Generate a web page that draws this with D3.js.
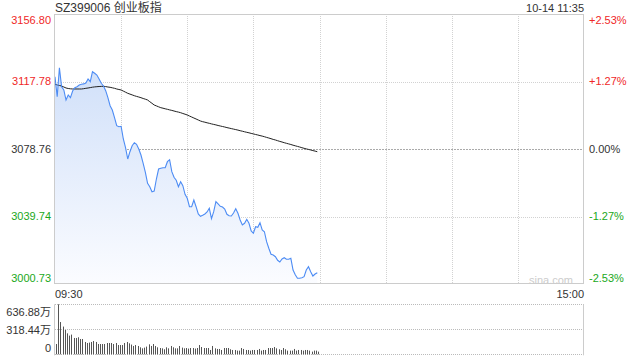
<!DOCTYPE html>
<html>
<head>
<meta charset="utf-8">
<script src="https://cdn.jsdelivr.net/npm/d3@7"></script>
<style>
  body { margin: 0; background: #fff; }
  svg { display: block; font-family: Arial, "Liberation Sans", "Noto Sans CJK SC", sans-serif; }
</style>
</head>
<body>
<div id="chart"></div>
<script>
// index name / time stamp
var title = "SZ399006 创业板指";
var stamp = "10-14 11:35";
var timeLabels = ["09:30", "15:00"];

// price axis (left) and percent axis (right)
var priceTicks = [3156.80, 3117.78, 3078.76, 3039.74, 3000.73];
var pctLabels = ["+2.53%", "+1.27%", "0.00%", "-1.27%", "-2.53%"];
var prevClose = 3078.76;

// volume axis
var volTicks = [636.88, 318.44, 0];
var volLabels = ["636.88万", "318.44万", "0"];

// minute prices 09:30 - 11:29
var prices = [
  3120.56, 3109.00, 3125.76, 3114.78, 3112.87, 3107.09, 3109.98, 3108.42, 3112.29, 3114.20,
  3114.78, 3115.76, 3116.17, 3116.40, 3116.92, 3119.23, 3117.67, 3123.45, 3122.52, 3121.54,
  3119.23, 3116.74, 3115.18, 3112.47, 3108.42, 3103.80, 3101.31, 3096.86, 3092.23, 3091.66,
  3091.89, 3084.54, 3079.52, 3072.99, 3077.21, 3080.67, 3082.41, 3081.49, 3078.77, 3075.30,
  3070.50, 3065.30, 3058.94, 3056.97, 3054.08, 3054.49, 3061.42, 3067.20, 3067.61, 3067.96,
  3067.96, 3071.43, 3072.58, 3065.65, 3062.41, 3060.68, 3056.97, 3059.87, 3057.56, 3052.59,
  3050.27, 3045.41, 3045.41, 3049.29, 3045.41, 3041.20, 3039.86, 3040.44, 3041.20, 3042.35,
  3044.49, 3038.48, 3042.52, 3048.30, 3046.98, 3045.65, 3045.24, 3044.08, 3041.02, 3040.21,
  3040.04, 3041.77, 3044.26, 3041.60, 3037.73, 3034.84, 3035.82, 3038.13, 3035.82, 3031.37,
  3030.04, 3033.85, 3033.51, 3036.17, 3031.94, 3030.96, 3025.18, 3021.37, 3017.90, 3017.49,
  3016.51, 3014.43, 3013.45, 3015.18, 3015.93, 3015.01, 3015.01, 3015.59, 3008.82, 3006.11,
  3004.03, 3004.03, 3004.37, 3004.95, 3008.82, 3010.73, 3007.85, 3005.36, 3006.51, 3007.26
];

// average price line
var avgPrices = [
  3116.16, 3115.76, 3115.47, 3115.18, 3114.60, 3114.03, 3113.74, 3113.56, 3113.45, 3113.45,
  3113.45, 3113.45, 3113.45, 3113.62, 3113.85, 3114.03, 3114.26, 3114.49, 3114.66, 3114.78,
  3114.89, 3114.95, 3115.01, 3114.83, 3114.60, 3114.43, 3114.14, 3113.85, 3113.45, 3113.16,
  3112.87, 3112.23, 3111.60, 3110.96, 3110.50, 3110.04, 3109.57, 3109.17, 3108.82, 3108.42,
  3107.96, 3107.55, 3107.09, 3106.11, 3105.18, 3104.20, 3103.68, 3103.16, 3102.64, 3102.35,
  3102.00, 3101.71, 3101.37, 3101.08, 3100.73, 3100.38, 3100.09, 3099.75, 3099.29, 3098.88,
  3098.42, 3097.84, 3097.26, 3096.68, 3096.11, 3095.53, 3094.95, 3094.55, 3094.26, 3093.91,
  3093.62, 3093.27, 3092.98, 3092.70, 3092.35, 3092.06, 3091.77, 3091.48, 3091.13, 3090.85,
  3090.56, 3090.27, 3089.98, 3089.69, 3089.34, 3089.05, 3088.71, 3088.42, 3088.13, 3087.78,
  3087.49, 3087.15, 3086.86, 3086.51, 3086.22, 3085.87, 3085.47, 3085.12, 3084.72, 3084.31,
  3083.97, 3083.56, 3083.16, 3082.81, 3082.41, 3082.06, 3081.71, 3081.37, 3080.96, 3080.61,
  3080.27, 3079.92, 3079.52, 3079.17, 3078.82, 3078.53, 3078.19, 3077.84, 3077.55, 3077.20
];

// minute volume (万)
var volumes = [
  131, 636.88, 411, 353, 310, 267, 238, 251, 208, 208,
  217, 195, 195, 157, 144, 149, 157, 169, 157, 131,
  131, 131, 131, 144, 144, 144, 131, 144, 118, 118,
  118, 144, 157, 140, 124, 106, 118, 106, 89, 76,
  85, 98, 127, 106, 131, 106, 89, 80, 76, 64,
  89, 76, 106, 89, 76, 76, 106, 85, 76, 80,
  73, 80, 80, 73, 80, 118, 93, 80, 80, 80,
  55, 106, 76, 68, 68, 55, 80, 80, 80, 64,
  55, 55, 47, 47, 80, 68, 55, 55, 47, 55,
  55, 55, 68, 47, 55, 55, 80, 80, 80, 93,
  76, 64, 55, 80, 64, 47, 47, 47, 68, 47,
  55, 55, 47, 55, 55, 47, 34, 47, 47, 34
];

var w = 640, h = 360;
var pLeft = 55, pRight = 584;
var pTop = 14, pBottom = 284;
var vTop = 304.3, vBottom = 354.3;

var red = "#f02828", green = "#1aa81a", dark = "#333";

var svg = d3.select("#chart")
  .append("svg")
  .attr("width", w)
  .attr("height", h);

var x = d3.scaleLinear().domain([0, 240]).range([pLeft, pRight]);
var y = d3.scaleLinear().domain([priceTicks[4], priceTicks[0]]).range([pBottom, pTop]);
var yv = d3.scaleLinear().domain([0, volTicks[0]]).range([vBottom, vTop]);

function colorOf(i) {
  if (priceTicks[i] > prevClose) return red;
  if (priceTicks[i] < prevClose) return green;
  return dark;
}

// gradient under the price line
var grad = svg.append("defs").append("linearGradient")
  .attr("id", "fill")
  .attr("gradientUnits", "userSpaceOnUse")
  .attr("x1", 0).attr("x2", 0)
  .attr("y1", 60).attr("y2", pBottom);
grad.append("stop").attr("offset", 0).attr("stop-color", "#cfdff9");
grad.append("stop").attr("offset", 1).attr("stop-color", "#fbfcff");

// grid
var vgrid = d3.range(30, 240, 30);
svg.selectAll("line.vg")
  .data(vgrid)
  .enter()
  .append("line")
  .attr("x1", function(d) { return Math.round(x(d)) + 0.5; })
  .attr("x2", function(d) { return Math.round(x(d)) + 0.5; })
  .attr("y1", pTop)
  .attr("y2", pBottom)
  .attr("stroke", "#d2d2d2")
  .attr("stroke-dasharray", "1,1");

svg.selectAll("line.hg")
  .data(priceTicks.slice(1, 4))
  .enter()
  .append("line")
  .attr("x1", pLeft)
  .attr("x2", pRight)
  .attr("y1", function(d) { return Math.round(y(d)) + 0.5; })
  .attr("y2", function(d) { return Math.round(y(d)) + 0.5; })
  .attr("stroke", function(d) { return d === prevClose ? "#aaa" : "#d2d2d2"; })
  .attr("stroke-dasharray", function(d) { return d === prevClose ? "2,1" : "1,1"; });

// area + lines
svg.append("path")
  .datum(prices)
  .attr("d", d3.area()
    .x(function(d, i) { return x(i); })
    .y0(pBottom)
    .y1(function(d) { return y(d); }))
  .attr("fill", "url(#fill)");

svg.append("path")
  .datum(avgPrices)
  .attr("d", d3.line()
    .x(function(d, i) { return x(i); })
    .y(function(d) { return y(d); }))
  .attr("fill", "none")
  .attr("stroke", "#222")
  .attr("stroke-width", 1);

svg.append("path")
  .datum(prices)
  .attr("d", d3.line()
    .x(function(d, i) { return x(i); })
    .y(function(d) { return y(d); }))
  .attr("fill", "none")
  .attr("stroke", "#4d8cf4")
  .attr("stroke-width", 1.1);

// frame
svg.append("rect")
  .attr("x", pLeft - 0.5)
  .attr("y", pTop + 0.5)
  .attr("width", pRight - pLeft)
  .attr("height", pBottom - pTop - 1)
  .attr("fill", "none")
  .attr("stroke", "#ccc");

// watermark
svg.append("text")
  .attr("x", 573)
  .attr("y", 284)
  .attr("text-anchor", "end")
  .attr("font-size", "11px")
  .attr("fill", "#ccc")
  .text("sina.com");

// axis labels
function labelY(i) {
  var v = y(priceTicks[i]);
  if (i === 0) v += 6;
  if (i === priceTicks.length - 1) v -= 6;
  return v;
}

svg.selectAll("text.pl")
  .data(priceTicks)
  .enter()
  .append("text")
  .attr("x", 51)
  .attr("y", function(d, i) { return labelY(i); })
  .attr("dy", "0.35em")
  .attr("text-anchor", "end")
  .attr("font-size", "11px")
  .attr("fill", function(d, i) { return colorOf(i); })
  .text(function(d) { return d.toFixed(2); });

svg.selectAll("text.pr")
  .data(pctLabels)
  .enter()
  .append("text")
  .attr("x", 589)
  .attr("y", function(d, i) { return labelY(i); })
  .attr("dy", "0.35em")
  .attr("font-size", "11px")
  .attr("fill", function(d, i) { return colorOf(i); })
  .text(function(d) { return d; });

// header
svg.append("text")
  .attr("x", pLeft)
  .attr("y", 12)
  .attr("font-size", "12px")
  .attr("fill", dark)
  .text(title);

svg.append("text")
  .attr("x", pRight)
  .attr("y", 12)
  .attr("text-anchor", "end")
  .attr("font-size", "11px")
  .attr("fill", dark)
  .text(stamp);

// time labels
svg.append("text")
  .attr("x", pLeft)
  .attr("y", 297.5)
  .attr("font-size", "11px")
  .attr("fill", dark)
  .text(timeLabels[0]);

svg.append("text")
  .attr("x", pRight)
  .attr("y", 297.5)
  .attr("text-anchor", "end")
  .attr("font-size", "11px")
  .attr("fill", dark)
  .text(timeLabels[1]);

// volume panel
svg.selectAll("line.vol")
  .data(volTicks)
  .enter()
  .append("line")
  .attr("x1", pLeft)
  .attr("x2", pRight)
  .attr("y1", function(d) { return Math.round(yv(d)) + 0.5; })
  .attr("y2", function(d) { return Math.round(yv(d)) + 0.5; })
  .attr("stroke", "#bbb")
  .attr("stroke-dasharray", "1,1");

svg.append("line")
  .attr("x1", pLeft - 0.5).attr("x2", pLeft - 0.5)
  .attr("y1", vTop).attr("y2", vBottom + 1)
  .attr("stroke", "#ccc");

svg.append("line")
  .attr("x1", pRight - 0.5).attr("x2", pRight - 0.5)
  .attr("y1", vTop).attr("y2", vBottom + 1)
  .attr("stroke", "#ccc");

svg.selectAll("rect.bar")
  .data(volumes)
  .enter()
  .append("rect")
  .attr("x", function(d, i) { return Math.round(x(i) + 1); })
  .attr("y", function(d) { return yv(d); })
  .attr("width", 1)
  .attr("height", function(d) { return vBottom - yv(d); })
  .attr("fill", "#555");

var volLabelY = [311.7, 330, 348.3];
svg.selectAll("text.vl")
  .data(volLabels)
  .enter()
  .append("text")
  .attr("x", 51)
  .attr("y", function(d, i) { return volLabelY[i]; })
  .attr("dy", "0.35em")
  .attr("text-anchor", "end")
  .attr("font-size", "11px")
  .attr("fill", dark)
  .text(function(d) { return d; });
</script>
</body>
</html>
